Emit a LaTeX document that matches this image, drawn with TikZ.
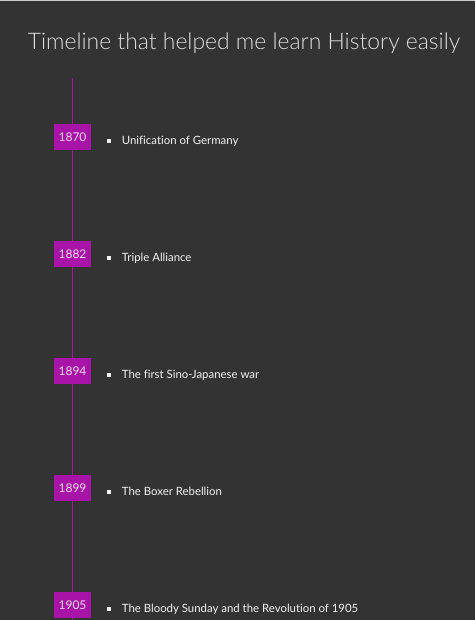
\documentclass[tikz,border=0pt]{standalone}
\usepackage{fontspec}
\setmainfont{Lato}[Ligatures=NoCommon]
\newfontfamily\lightfont{Lato Light}[Ligatures=NoCommon]
\usetikzlibrary{positioning}
\definecolor{Back}{HTML}{333333}
\definecolor{TopRule}{HTML}{CCCCCC}
\definecolor{TimePurple}{HTML}{A814A8}
\definecolor{YearText}{HTML}{EEDDEE}
\definecolor{EventText}{HTML}{F2F2F2}
\definecolor{TitleText}{HTML}{DDDDDD}

\begin{document}
\begin{tikzpicture}[x=1pt, y=-1pt,
		year/.style={fill=TimePurple, text=YearText, minimum width=37pt, minimum height=26pt, inner sep=0pt, font=\fontsize{12}{14}\selectfont},
		bullet/.style={fill=EventText, minimum size=4pt, inner sep=0pt},
		event/.style={anchor=base west, inner sep=0pt, text=EventText, font=\fontsize{11.4}{14}\selectfont}
		]
		\fill[Back] (0,0) rectangle (475,620);
		\fill[TopRule] (0,0) rectangle (475,1);
		\useasboundingbox (0,0) rectangle (475,620);

		\node[text=TitleText, font=\lightfont\fontsize{22.9}{27}\selectfont, anchor=base] (T) at (244,49.3) {Timeline that helped me learn History easily};

		\coordinate (top) at (72.5,78);
		\coordinate (bottom) at (72.5,620);

		\node[year] (Y1870) at (72.5,137) {1870};
		\node[year] (Y1882) at (72.5,254) {1882};
		\node[year] (Y1894) at (72.5,371) {1894};
		\node[year] (Y1899) at (72.5,488) {1899};
		\node[year] (Y1905) at (72.5,605) {1905};

		\node[bullet] (B1870) at (109,141) {};
		\node[bullet] (B1882) at (109,258) {};
		\node[bullet] (B1894) at (109,375) {};
		\node[bullet] (B1899) at (109,492) {};
		\node[bullet] (B1905) at (109,609) {};

		\node[event] (E1870) at (121.7,144.5) {Unification of Germany};
		\node[event] (E1882) at (121.7,261.5) {Triple Alliance};
		\node[event] (E1894) at (121.7,378.5) {The first Sino-Japanese war};
		\node[event] (E1899) at (121.7,495.5) {The Boxer Rebellion};
		\node[event] (E1905) at (121.7,612.5) {The Bloody Sunday and the Revolution of 1905};

		\draw[TimePurple, line width=1pt] (top) -- (Y1870) -- (Y1882) -- (Y1894) -- (Y1899) -- (Y1905) -- (bottom);
	\end{tikzpicture}
\end{document}
